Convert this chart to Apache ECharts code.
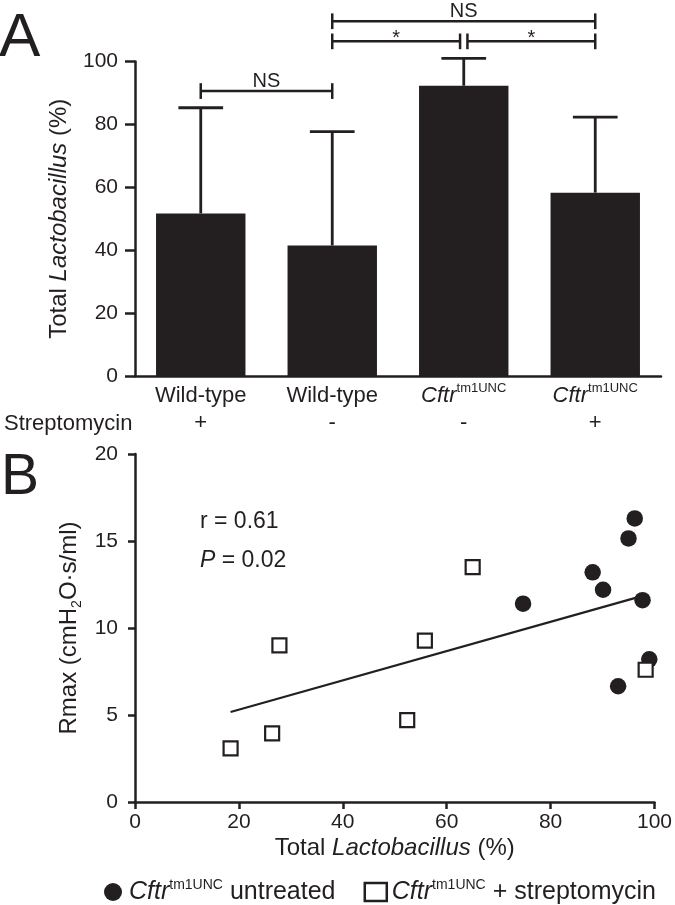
<!DOCTYPE html>
<html><head><meta charset="utf-8">
<script src="https://cdn.jsdelivr.net/npm/echarts@6/dist/echarts.min.js"></script>
<style>html,body{margin:0;padding:0;background:#fff}#c{width:675px;height:905px}</style>
</head><body><div id="c"></div>
<script>
// ---------- Panel A data ----------
const categories = ['Wild-type', 'Wild-type', 'Cftr', 'Cftr'];
const streptomycin = ['+', '-', '-', '+'];
const lactoMean = [51.7, 41.5, 92.3, 58.3];
const lactoSD = [33.6, 36.2, 8.7, 24.0];
const yTicksA = [0, 20, 40, 60, 80, 100];
// significance brackets (category index from/to, height in %)
const bracketFrom = [0, 1, 2, 1];
const bracketTo = [1, 2, 3, 3];
const bracketY = [90.6, 106.4, 106.4, 112.8];
const bracketLabel = ['NS', '*', '*', 'NS'];

// ---------- Panel B data ----------
const untreatedX = [74.7, 88.1, 90.1, 95.0, 96.2, 97.7, 99.0, 93.0];
const untreatedY = [11.4, 13.2, 12.2, 15.15, 16.3, 11.6, 8.2, 6.65];
const strepX = [18.4, 26.4, 27.8, 52.4, 55.8, 65.0, 98.3];
const strepY = [3.08, 3.94, 9.0, 4.7, 9.28, 13.5, 7.6];
const fitX = [18.4, 97.2];
const fitY = [5.17, 11.8];
const corrR = '0.61';
const corrP = '0.02';

const FONT = '"Liberation Sans", Arial, Helvetica, sans-serif';
const INK = '#231f20';

const chart = echarts.init(document.getElementById('c'));

chart.setOption({
  animation: false,
  textStyle: { fontFamily: FONT, color: INK },
  grid: [
    { left: 135, top: 61.5, width: 526, height: 314.5 },
    { left: 135, top: 454, width: 525, height: 348 }
  ],
  xAxis: [
    {
      type: 'category', gridIndex: 0, data: categories,
      axisLine: { lineStyle: { color: INK, width: 2.5 } },
      axisTick: { show: false },
      axisLabel: {
        interval: 0, margin: 6, color: INK, fontFamily: FONT, fontSize: 22, lineHeight: 27,
        formatter: (v, i) => (v === 'Cftr' ? '{ci|Cftr}{sup|tm1UNC}' : '{n|' + v + '}') + '\n{s|' + streptomycin[i] + '}',
        rich: {
          n: { fontSize: 22, lineHeight: 27, fontFamily: FONT, color: INK },
          ci: { fontSize: 22, lineHeight: 27, fontStyle: 'italic', fontFamily: FONT, color: INK },
          sup: { fontSize: 13, lineHeight: 18, verticalAlign: 'top', fontFamily: FONT, color: INK },
          s: { fontSize: 22, lineHeight: 27, fontFamily: FONT, color: INK }
        }
      }
    },
    {
      type: 'value', gridIndex: 1, min: 0, max: 100, interval: 20,
      axisLine: { lineStyle: { color: INK, width: 2.5 } },
      axisTick: { show: true, length: 7, lineStyle: { color: INK, width: 2.5 } },
      axisLabel: { margin: 10, fontSize: 21, color: INK, fontFamily: FONT },
      splitLine: { show: false },
      name: 'Total {i|Lactobacillus} (%)', nameLocation: 'middle', nameGap: 34,
      nameTextStyle: {
        fontSize: 24, color: INK, fontFamily: FONT,
        rich: { i: { fontSize: 24, fontStyle: 'italic', fontFamily: FONT, color: INK } }
      }
    }
  ],
  yAxis: [
    {
      type: 'value', gridIndex: 0, min: 0, max: 100, interval: 20,
      axisLine: { show: true, lineStyle: { color: INK, width: 2.5 } },
      axisTick: { show: true, length: 10, lineStyle: { color: INK, width: 2.5 } },
      axisLabel: { margin: 17, fontSize: 21, color: INK, fontFamily: FONT },
      splitLine: { show: false },
      name: 'Total {i|Lactobacillus} (%)', nameLocation: 'middle', nameGap: 64, nameRotate: 90,
      nameTextStyle: {
        fontSize: 24, color: INK, fontFamily: FONT,
        rich: { i: { fontSize: 24, fontStyle: 'italic', fontFamily: FONT, color: INK } }
      }
    },
    {
      type: 'value', gridIndex: 1, min: 0, max: 20, interval: 5,
      axisLine: { show: true, lineStyle: { color: INK, width: 2.5 } },
      axisTick: { show: true, length: 7, lineStyle: { color: INK, width: 2.5 } },
      axisLabel: { margin: 17, fontSize: 21, color: INK, fontFamily: FONT },
      splitLine: { show: false },
      name: 'Rmax (cmH{sub|2}O·s/ml)', nameLocation: 'middle', nameGap: 46, nameRotate: 90,
      nameTextStyle: {
        fontSize: 24, color: INK, fontFamily: FONT, lineHeight: 28,
        rich: { sub: { fontSize: 14, lineHeight: 14, verticalAlign: 'bottom', fontFamily: FONT, color: INK } }
      }
    }
  ],
  legend: {
    left: 99, top: 873, itemWidth: 22, itemHeight: 18, itemGap: 28, selectedMode: false,
    textStyle: {
      fontSize: 25, color: INK, fontFamily: FONT,
      rich: {
        ci: { fontSize: 25, fontStyle: 'italic', fontFamily: FONT, color: INK, lineHeight: 28 },
        sup: { fontSize: 14, lineHeight: 18, verticalAlign: 'top', fontFamily: FONT, color: INK },
        t: { fontSize: 25, fontFamily: FONT, color: INK, lineHeight: 28 }
      }
    },
    formatter: name => name === 'untreated'
      ? '{ci|Cftr}{sup|tm1UNC}{t| untreated}'
      : '{ci|Cftr}{sup|tm1UNC}{t| + streptomycin}',
    data: [
      { name: 'untreated', icon: 'circle', itemStyle: { color: INK } },
      { name: 'strep', icon: 'rect', itemStyle: { color: '#fff', borderColor: INK, borderWidth: 2.5 } }
    ]
  },
  graphic: [
    { type: 'text', x: -1, y: 39, style: { text: 'A', fontSize: 62, fontFamily: FONT, fill: INK, verticalAlign: 'middle' } },
    { type: 'text', x: 1, y: 478, style: { text: 'B', fontSize: 57, fontFamily: FONT, fill: INK, verticalAlign: 'middle' } },
    { type: 'text', x: 4, y: 424, style: { text: 'Streptomycin', fontSize: 22, fontFamily: FONT, fill: INK, verticalAlign: 'middle' } },
    { type: 'text', x: 200, y: 522, style: { text: 'r = ' + corrR, fontSize: 23, fontFamily: FONT, fill: INK, verticalAlign: 'middle' } },
    { type: 'text', x: 200, y: 561, style: {
        text: '{i|P} = ' + corrP, fontSize: 23, fontFamily: FONT, fill: INK, verticalAlign: 'middle',
        rich: { i: { fontSize: 23, fontStyle: 'italic', fontFamily: FONT, fill: INK } } } }
  ],
  series: [
    {
      type: 'bar', xAxisIndex: 0, yAxisIndex: 0, data: lactoMean, barWidth: '68%',
      itemStyle: { color: INK }
    },
    {
      type: 'custom', xAxisIndex: 0, yAxisIndex: 0, z: 5, clip: false,
      data: lactoMean.map((m, i) => [i, m + lactoSD[i]]),
      renderItem: (params, api) => {
        const i = params.dataIndex;
        const top = api.coord([i, lactoMean[i] + lactoSD[i]]);
        const base = api.coord([i, lactoMean[i]]);
        const hw = api.size([1, 0])[0] * 0.17;
        const st = { stroke: INK, lineWidth: 2.8 };
        return { type: 'group', children: [
          { type: 'line', shape: { x1: top[0], y1: base[1], x2: top[0], y2: top[1] }, style: st },
          { type: 'line', shape: { x1: top[0] - hw, y1: top[1], x2: top[0] + hw, y2: top[1] }, style: st }
        ] };
      }
    },
    {
      type: 'custom', xAxisIndex: 0, yAxisIndex: 0, z: 5, clip: false,
      data: bracketY.map((y, i) => [bracketFrom[i], y]),
      renderItem: (params, api) => {
        const i = params.dataIndex;
        const y = bracketY[i];
        const band = api.size([1, 0])[0];
        const inset = band * 0.028;
        const p1 = api.coord([bracketFrom[i], y]);
        const p2 = api.coord([bracketTo[i], y]);
        let x1 = p1[0], x2 = p2[0];
        bracketY.forEach((yy, j) => {
          if (j !== i && yy === y) {
            if (bracketTo[j] === bracketFrom[i]) x1 += inset;
            if (bracketFrom[j] === bracketTo[i]) x2 -= inset;
          }
        });
        const h = api.size([0, 2.5])[1];
        const st = { stroke: INK, lineWidth: 2.5 };
        const star = bracketLabel[i] === '*';
        return { type: 'group', children: [
          { type: 'line', shape: { x1: x1, y1: p1[1], x2: x2, y2: p1[1] }, style: st },
          { type: 'line', shape: { x1: x1, y1: p1[1] - h, x2: x1, y2: p1[1] + h }, style: st },
          { type: 'line', shape: { x1: x2, y1: p1[1] - h, x2: x2, y2: p1[1] + h }, style: st },
          { type: 'text', x: (x1 + x2) / 2, y: p1[1] + (star ? 7 : 0),
            style: { text: bracketLabel[i], fontSize: 20, fontFamily: FONT, fill: INK,
                     align: 'center', verticalAlign: 'bottom' } }
        ] };
      }
    },
    {
      type: 'line', xAxisIndex: 1, yAxisIndex: 1, symbol: 'none', z: 2,
      data: fitX.map((x, i) => [x, fitY[i]]),
      lineStyle: { color: INK, width: 2.2 }
    },
    {
      name: 'untreated', type: 'scatter', xAxisIndex: 1, yAxisIndex: 1, z: 3,
      symbol: 'circle', symbolSize: 16.5,
      data: untreatedX.map((x, i) => [x, untreatedY[i]]),
      itemStyle: { color: INK, opacity: 1 }
    },
    {
      name: 'strep', type: 'scatter', xAxisIndex: 1, yAxisIndex: 1, z: 4,
      symbol: 'rect', symbolSize: 14,
      data: strepX.map((x, i) => [x, strepY[i]]),
      itemStyle: { color: '#fff', borderColor: INK, borderWidth: 2.2, opacity: 1 }
    }
  ]
});
</script>
</body></html>
